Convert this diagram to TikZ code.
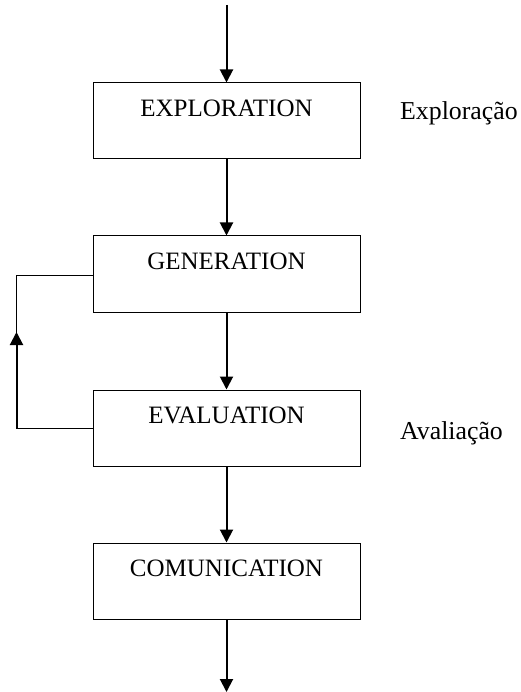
\documentclass[tikz,border=0pt]{standalone}
\usepackage{fontspec}
\setmainfont{Liberation Serif}
\usetikzlibrary{arrows.meta}
\begin{document}
\begin{tikzpicture}[x=1pt,y=-1pt,
  stagebox/.style={draw=black, line width=1pt, minimum width=267pt,
    inner xsep=0pt, inner ysep=0pt, text height=33.5pt, text depth=42.5pt,
    font=\fontsize{25}{30}\selectfont},
  sidelabel/.style={anchor=base west, inner sep=0pt, font=\fontsize{25.8}{30}\selectfont},
  flow/.style={line width=2pt, -{Triangle[length=13pt,width=13pt]}},
  loopline/.style={line width=1pt}
]
\useasboundingbox (0,0) rectangle (521,692);

% stages of the process
\node[stagebox] (expl) at (226.5,121) {EXPLORATION};
\node[stagebox] (gen)  at (226.5,274) {GENERATION};
\node[stagebox] (eval) at (226.5,428) {EVALUATION};
\node[stagebox] (com)  at (226.5,581) {COMUNICATION};

% side annotations
\node[sidelabel] (lblexpl) at (400,120) {Exploração};
\node[sidelabel] (lbleval) at (400,439) {Avaliação};

% entry and exit points
\coordinate (start) at (226.5,5);
\coordinate (finish) at (226.5,692);

% main flow
\draw[flow] (start) -- (expl.north);
\draw[flow] (expl.south) -- (gen.north);
\draw[flow] (gen.south) -- (eval.north);
\draw[flow] (eval.south) -- (com.north);
\draw[flow] (com.south) -- (finish);

% feedback loop from evaluation back to generation
\coordinate (loopbot) at (16.5,428);
\coordinate (looptop) at (16.5,275);
\coordinate (looptip) at (16.5,332);
\draw[loopline] (eval.west) -- (loopbot) -- (looptop) -- (gen.west |- looptop);
\draw[flow] (loopbot) -- (looptip);
\end{tikzpicture}
\end{document}
